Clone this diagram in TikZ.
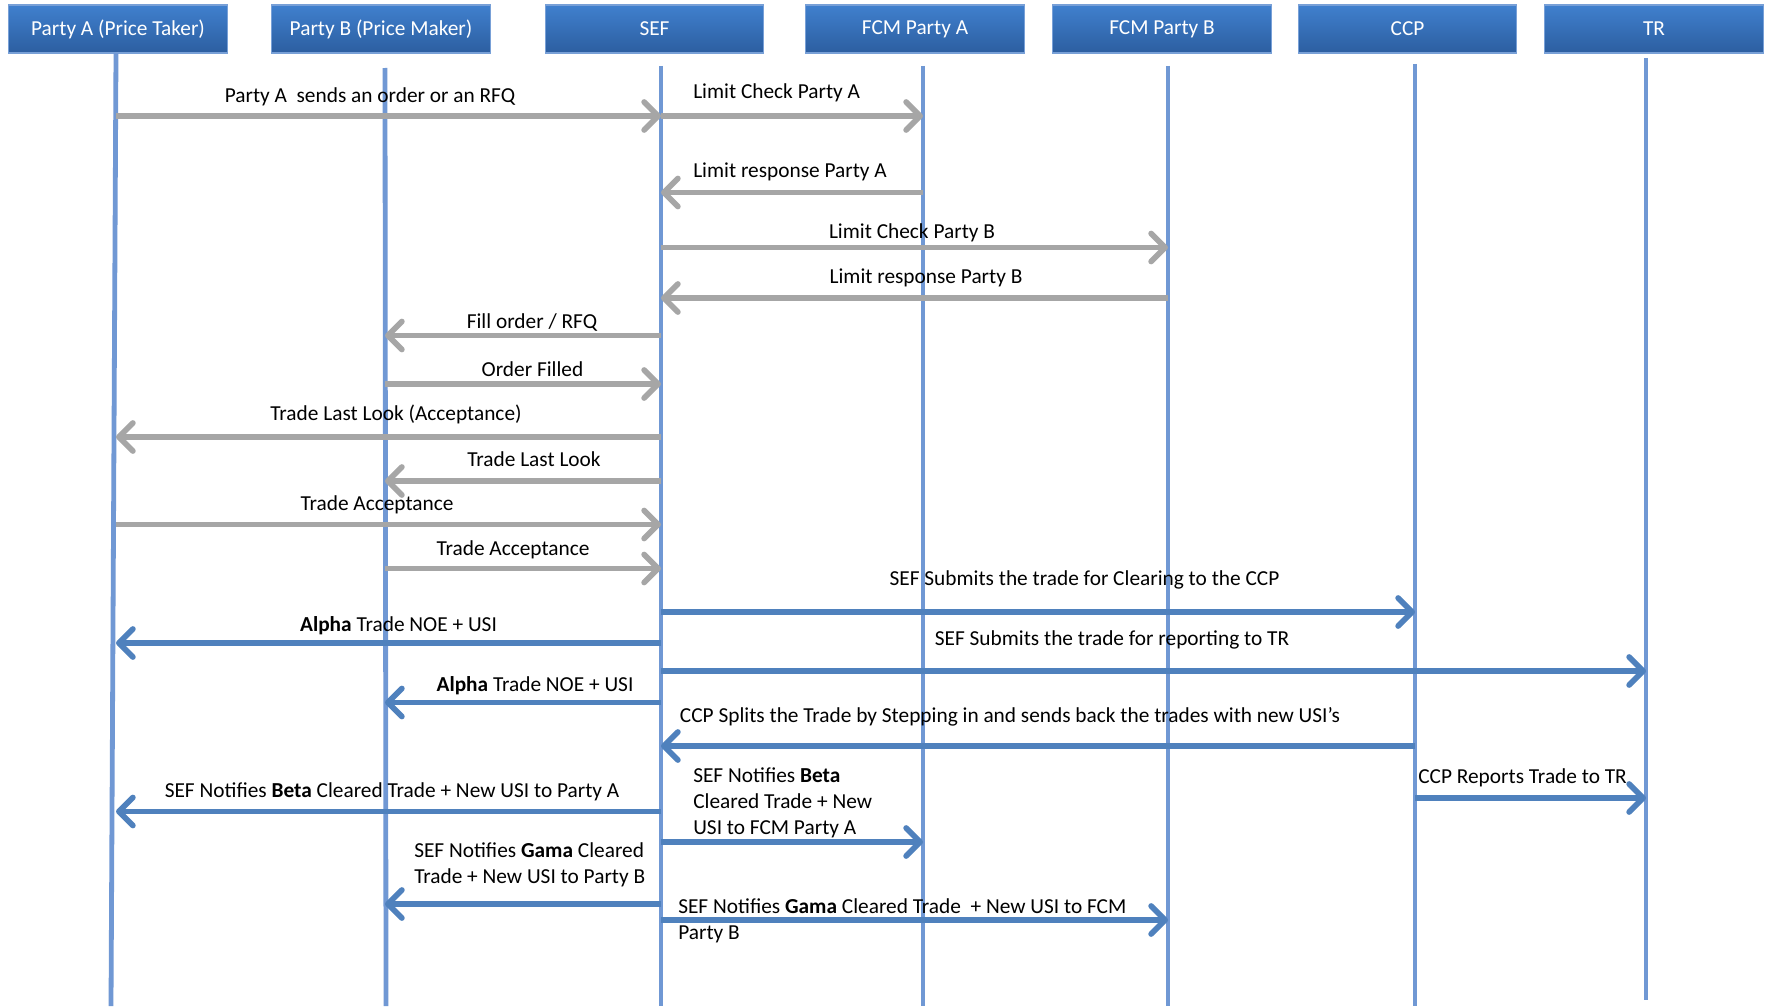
\documentclass[tikz,border=0pt]{standalone}
\usepackage{fontspec}
\setmainfont{Carlito}
\usetikzlibrary{arrows.meta}
\definecolor{hdtop}{RGB}{64,128,206}
\definecolor{hdbot}{RGB}{44,94,160}
\definecolor{hdborder}{RGB}{120,160,215}
\definecolor{lifec}{RGB}{112,152,212}
\definecolor{greyarr}{RGB}{166,166,166}
\definecolor{bluearr}{RGB}{79,129,189}
\begin{document}
\begin{tikzpicture}[x=0.75pt,y=-0.75pt,
  hdr/.style={draw=hdborder, line width=0.8pt, top color=hdtop, bottom color=hdbot,
    text=white, minimum width=164pt, minimum height=36pt, inner sep=0pt,
    font=\fontsize{16}{19.5}\selectfont},
  life/.style={draw=lifec, line width=3.6pt},
  garr/.style={draw=greyarr, line width=4.3pt, -{Straight Barb[length=10.5pt,width=21pt,round]}},
  barr/.style={draw=bluearr, line width=4.3pt, -{Straight Barb[length=10.5pt,width=21pt,round]}},
  lbl/.style={font=\fontsize{16}{19.5}\selectfont, inner sep=0pt, text=black, yshift=-1.5pt},
  lbll/.style={lbl, anchor=west, align=left}
]
\path[fill=white, use as bounding box] (0,0) rectangle (1765,1006);

% headers
\node[hdr] (hA) at (118,29) {Party A (Price Taker)};
\node[hdr] (hB) at (381,29) {Party B (Price Maker)};
\node[hdr] (hS) at (654.5,29) {SEF};
\node[hdr] (hFA) at (915,29) {FCM Party A};
\node[hdr] (hFB) at (1162,29) {FCM Party B};
\node[hdr] (hC) at (1407.5,29) {CCP};
\node[hdr] (hT) at (1654,29) {TR};

% lifeline ends
\coordinate (tA) at (116,53);  \coordinate (bA) at (111,1006);
\coordinate (tB) at (385,68);  \coordinate (bB) at (386,1006);
\coordinate (tS) at (661,66);  \coordinate (bS) at (661,1006);
\coordinate (tFA) at (923,66); \coordinate (bFA) at (923,1006);
\coordinate (tFB) at (1168,66);\coordinate (bFB) at (1168,1006);
\coordinate (tC) at (1415,64); \coordinate (bC) at (1415,1006);
\coordinate (tT) at (1646,58); \coordinate (bT) at (1646,1000);

\draw[life] (tA) -- (bA);
\draw[life] (tB) -- (bB);
\draw[life] (tS) -- (bS);
\draw[life] (tFA) -- (bFA);
\draw[life] (tFB) -- (bFB);
\draw[life] (tC) -- (bC);
\draw[life] (tT) -- (bT);

% messages
\draw[garr] (tA |- 0,116) -- (tS |- 0,116);
\node[lbl] (l1) at (370,94.5) {Party A\ \ sends an order or an RFQ};
\draw[garr] (tS |- 0,116) -- (tFA |- 0,116);
\node[lbll] (l2) at (693,91) {Limit Check Party A};
\draw[garr] (tFA |- 0,192.5) -- (tS |- 0,192.5);
\node[lbll] (l3) at (693,170) {Limit response Party A};
\draw[garr] (tS |- 0,247.5) -- (tFB |- 0,247.5);
\node[lbl] (l4) at (912,231) {Limit Check Party B};
\draw[garr] (tFB |- 0,298) -- (tS |- 0,298);
\node[lbl] (l5) at (926,276) {Limit response Party B};
\draw[garr] (tS |- 0,335.5) -- (tB |- 0,335.5);
\node[lbl] (l6) at (532,321) {Fill order / RFQ};
\draw[garr] (tB |- 0,384) -- (tS |- 0,384);
\node[lbl] (l7) at (532.5,367) {Order Filled};
\draw[garr] (tS |- 0,437) -- (tA |- 0,437);
\node[lbl] (l8) at (396,412) {Trade Last Look (Acceptance)};
\draw[garr] (tS |- 0,481) -- (tB |- 0,481);
\node[lbl] (l9) at (534,457) {Trade Last Look};
\draw[garr] (tA |- 0,524.5) -- (tS |- 0,524.5);
\node[lbl] (l10) at (377,503) {Trade Acceptance};
\draw[garr] (tB |- 0,568.5) -- (tS |- 0,568.5);
\node[lbl] (l11) at (513,548) {Trade Acceptance};

\draw[barr] (tS |- 0,612) -- (tC |- 0,612);
\node[lbl] (l12) at (1084.5,577.5) {SEF Submits the trade for Clearing to the CCP};
\draw[barr] (tS |- 0,643) -- (tA |- 0,643);
\node[lbl] (l13) at (398.5,624) {\textbf{Alpha} Trade NOE + USI};
\draw[barr] (tS |- 0,671) -- (tT |- 0,671);
\node[lbl] (l14) at (1112,638) {SEF Submits the trade for reporting to TR};
\draw[barr] (tS |- 0,702.5) -- (tB |- 0,702.5);
\node[lbl] (l15) at (535,684) {\textbf{Alpha} Trade NOE + USI};
\draw[barr] (tC |- 0,746) -- (tS |- 0,746);
\node[lbl] (l16) at (1010,715) {CCP Splits the Trade by Stepping in and sends back the trades with new USI’s};
\draw[barr] (tS |- 0,811.5) -- (tA |- 0,811.5);
\node[lbl] (l17) at (392,790) {SEF Notifies \textbf{Beta} Cleared Trade + New USI to Party A};
\draw[barr] (tS |- 0,842) -- (tFA |- 0,842);
\node[lbll] (l18) at (693,801) {SEF Notifies \textbf{Beta}\\Cleared Trade + New\\USI to FCM Party A};
\draw[barr] (tC |- 0,798) -- (tT |- 0,798);
\node[lbll] (l19) at (1418,775.5) {CCP Reports Trade to TR};
\draw[barr] (tS |- 0,904) -- (tB |- 0,904);
\node[lbll] (l20) at (414,863) {SEF Notifies \textbf{Gama} Cleared\\Trade + New USI to Party B};
\draw[barr] (tS |- 0,920) -- (tFB |- 0,920);
\node[lbll] (l21) at (678,918.5) {SEF Notifies \textbf{Gama} Cleared Trade\ \ + New USI to FCM\\Party B};
\end{tikzpicture}
\end{document}
